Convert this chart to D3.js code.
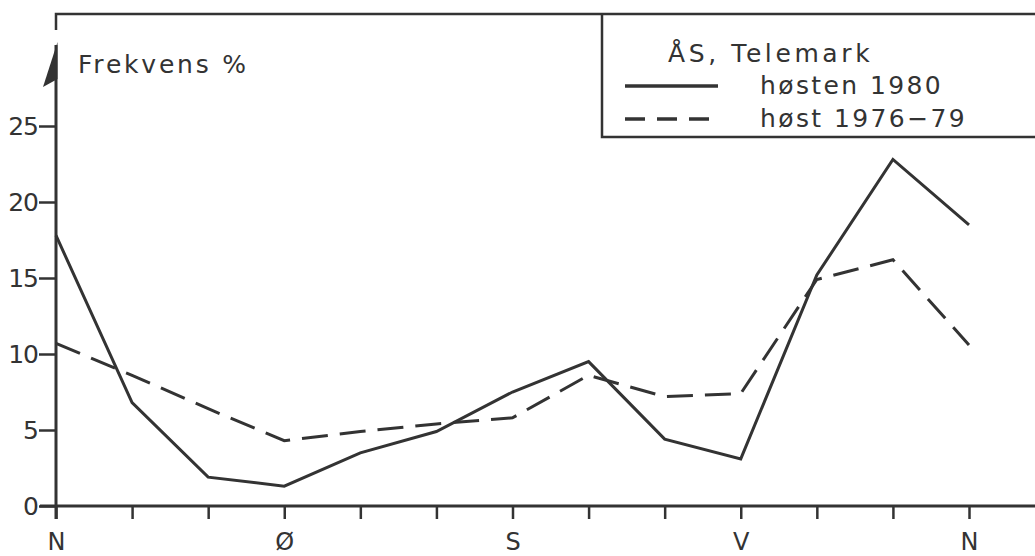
<!DOCTYPE html>
<html>
<head>
<meta charset="utf-8">
<script src="https://cdn.jsdelivr.net/npm/d3@7"></script>
<style>
	body { margin: 0; background: #fff; overflow: hidden; }
	text { font-family: "DejaVu Sans", sans-serif; fill: #333; }
</style>
</head>
<body>
<script>
'use strict';

// wind directions, 30 degree steps, N round to N
const directions = ["N", "", "", "Ø", "", "", "S", "", "", "V", "", "", "N"];
const autumn1980 = [17.8, 6.8, 1.9, 1.3, 3.5, 4.9, 7.5, 9.5, 4.4, 3.1, 15.2, 22.8, 18.5];
const autumn7679 = [10.7, 8.6, 6.4, 4.3, 4.9, 5.4, 5.8, 8.6, 7.2, 7.4, 14.9, 16.2, 10.6];
const yTicks = [0, 5, 10, 15, 20, 25];
const legendTitle = "ÅS, Telemark";
const seriesNames = ["høsten 1980", "høst 1976−79"];

const W = 1035, H = 556;
const ink = "#333";

const svg = d3.select("body").append("svg")
	.attr("width", W)
	.attr("height", H)
	.style("display", "block");

const xScale = d3.scaleLinear().domain([0, directions.length - 1]).range([56, 969]);
const yScale = d3.scaleLinear().domain([0, 25]).range([506, 126]);

// x axis (base line drawn first, ticks on top)
svg.append("line")
	.attr("x1", 40).attr("x2", W)
	.attr("y1", yScale(0)).attr("y2", yScale(0))
	.attr("stroke", ink).attr("stroke-width", 3);

const xAxis = svg.append("g")
	.attr("transform", `translate(0,${yScale(0)})`)
	.call(d3.axisBottom(xScale)
		.tickValues(d3.range(directions.length))
		.tickSize(13)
		.tickSizeOuter(0)
		.tickPadding(14)
		.tickFormat(i => directions[i]));
xAxis.select(".domain").remove();
xAxis.selectAll(".tick line").attr("stroke", ink).attr("stroke-width", 2.5);
xAxis.selectAll(".tick text").attr("font-size", 24).attr("fill", ink).attr("font-family", "DejaVu Sans");

// y axis
const yAxis = svg.append("g")
	.attr("transform", `translate(${xScale(0)},0)`)
	.call(d3.axisLeft(yScale)
		.tickValues(yTicks)
		.tickSize(17)
		.tickSizeOuter(0)
		.tickPadding(1));
yAxis.select(".domain").remove();
yAxis.selectAll(".tick line").attr("stroke", ink).attr("stroke-width", 2.5);
yAxis.selectAll(".tick text").attr("font-size", 25).attr("fill", ink).attr("font-family", "DejaVu Sans")
	.attr("letter-spacing", -1);
yAxis.append("line")
	.attr("y1", yScale(0) + 13).attr("y2", 45)
	.attr("stroke", ink).attr("stroke-width", 3);
// half arrow head
yAxis.append("path")
	.attr("d", "M1.5,42 L-13,87 L1.5,79 Z")
	.attr("fill", ink);

svg.append("text")
	.attr("x", 78).attr("y", 73)
	.attr("font-size", 25)
	.attr("letter-spacing", 2.8)
	.text("Frekvens %");

// frame on top and legend box
svg.append("path")
	.attr("d", `M56,30 L56,14 L${W},14 M602,14 L602,137 L${W},137`)
	.attr("fill", "none")
	.attr("stroke", ink)
	.attr("stroke-width", 2.5);

// lines
const line = d3.line()
	.x((d, i) => xScale(i))
	.y(d => yScale(d));

svg.append("path")
	.datum(autumn7679)
	.attr("d", line)
	.attr("fill", "none")
	.attr("stroke", ink)
	.attr("stroke-width", 3)
	.attr("stroke-dasharray", "26,12");

svg.append("path")
	.datum(autumn1980)
	.attr("d", line)
	.attr("fill", "none")
	.attr("stroke", ink)
	.attr("stroke-width", 3);

// legend
const legend = svg.append("g");
legend.append("text")
	.attr("x", 668).attr("y", 62)
	.attr("font-size", 25)
	.attr("letter-spacing", 3.6)
	.text(legendTitle);

seriesNames.forEach((name, i) => {
	const y = 86 + i * 33;
	legend.append("line")
		.attr("x1", 625).attr("x2", 718)
		.attr("y1", y).attr("y2", y)
		.attr("stroke", ink)
		.attr("stroke-width", 3.5)
		.attr("stroke-dasharray", i ? "20,12" : null);
	legend.append("text")
		.attr("x", 760).attr("y", y + 8)
		.attr("font-size", 25)
		.attr("letter-spacing", 2.4)
		.text(name);
});
</script>
</body>
</html>
